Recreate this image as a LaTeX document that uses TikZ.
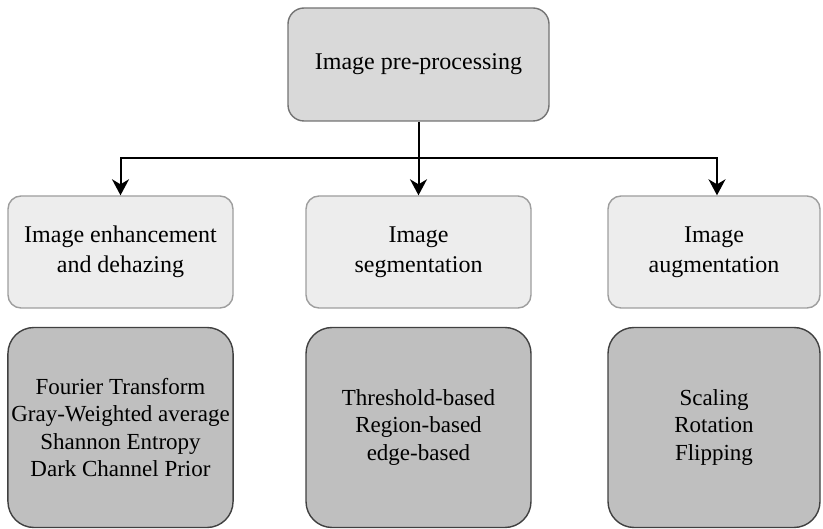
\documentclass[tikz,border=0pt]{standalone}
\usepackage{fontspec}
\setmainfont{Liberation Serif}
\usetikzlibrary{arrows.meta}
\begin{document}
\begin{tikzpicture}[x=1pt,y=-1pt,
  topbox/.style={draw=black!55, fill=black!15, line width=1.4pt, rounded corners=16pt,
    minimum width=261pt, minimum height=113pt, align=center,
    font=\fontsize{24}{30}\selectfont},
  midbox/.style={draw=black!38, fill=black!7, line width=1.4pt, rounded corners=13pt,
    minimum height=112pt, align=center, font=\fontsize{24}{30}\selectfont},
  lowbox/.style={draw=black!75, fill=black!25, line width=1.4pt, rounded corners=26pt,
    minimum height=200pt, align=center, font=\fontsize{23}{27.5}\selectfont},
  link/.style={line width=2pt, -{Stealth[length=16pt,width=17pt,inset=5pt]}}]
  \useasboundingbox (0,0) rectangle (823,529);

  % root
  \node[topbox] (root) at (418.5,64.5) {Image pre-processing};

  % categories
  \node[midbox, minimum width=225pt] (enh) at (120.5,252) {Image enhancement\\and dehazing};
  \node[midbox, minimum width=225pt] (seg) at (418.5,252) {Image\\segmentation};
  \node[midbox, minimum width=212pt] (aug) at (714,252) {Image\\augmentation};

  % methods
  \node[lowbox, minimum width=225pt] (enhm) at (120.5,427.5)
    {Fourier Transform\\Gray-Weighted average\\Shannon Entropy\\Dark Channel Prior};
  \node[lowbox, minimum width=225pt] (segm) at (418.5,427.5)
    {Threshold-based\\Region-based\\edge-based};
  \node[lowbox, minimum width=212pt] (augm) at (714,427.5)
    {Scaling\\Rotation\\Flipping};

  % connectors
  \coordinate (bus) at (418.5,158);
  \draw[line width=2pt] (root.south) -- (bus);
  \draw[link] (bus) -| (enh.north);
  \draw[link] (bus) -- (seg.north);
  \draw[link] (bus) -| ([xshift=3pt]aug.north);
\end{tikzpicture}
\end{document}
